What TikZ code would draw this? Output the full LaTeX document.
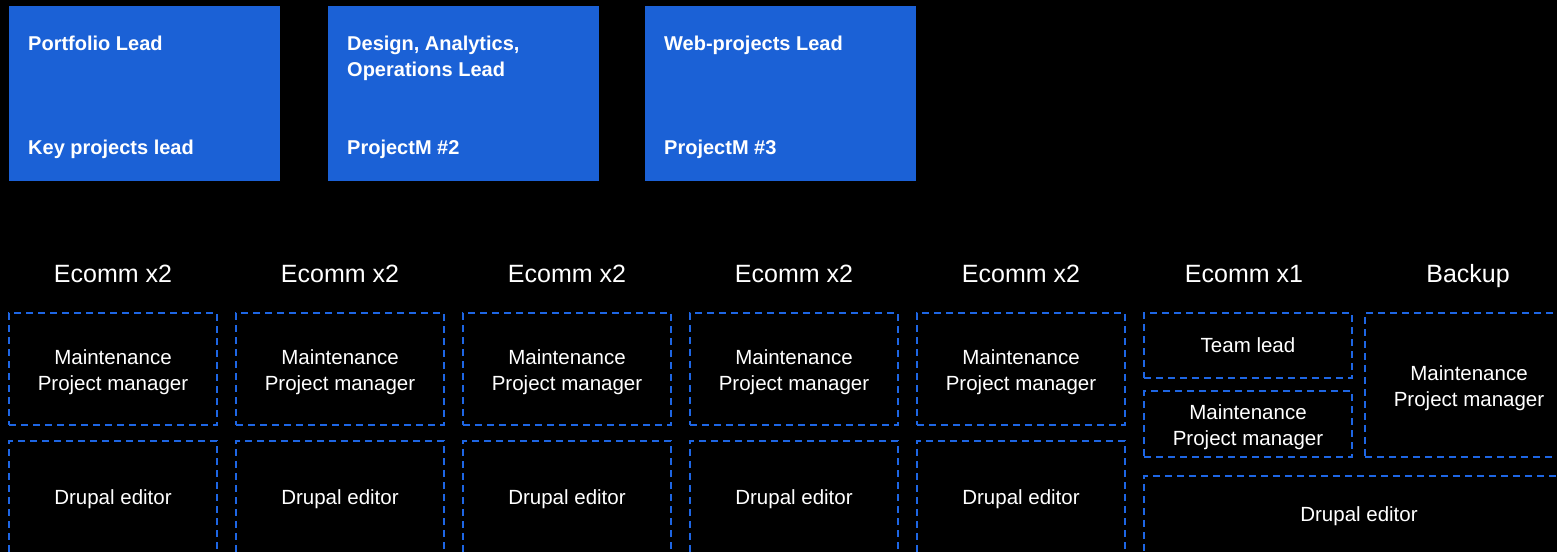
\documentclass[tikz,border=0pt]{standalone}
\usepackage{fontspec}
\setmainfont{Liberation Sans}

\definecolor{leadblue}{RGB}{27,97,214}
\definecolor{dashblue}{RGB}{30,102,228}

\tikzset{
  leadbox/.style={fill=leadblue,anchor=north west,minimum width=271pt,minimum height=175pt,inner sep=0},
  leadtext/.style={anchor=base west,text=white,font=\fontsize{20}{26}\selectfont\bfseries,align=left,inner sep=0},
  teamhead/.style={anchor=base,text=white,font=\fontsize{25}{30}\selectfont,inner sep=0},
  rolebox/.style={draw=dashblue,line width=2pt,dash pattern=on 7pt off 5pt,text=white,
    font=\fontsize{20.5}{26}\selectfont,align=center,inner sep=0,minimum width=208pt},
  twoline/.style={rolebox,text height=47pt},
}

\begin{document}
\begin{tikzpicture}[x=1pt,y=-1pt]

\useasboundingbox (0,0) rectangle (1557,552);
\path[fill=black] (0,0) rectangle (1557,552);

%leads
\node[leadbox] (lead1) at (9,6) {};
\node[leadtext] (lead1top) at (28,50) {Portfolio Lead};
\node[leadtext] (lead1bot) at (28,154) {Key projects lead};

\node[leadbox] (lead2) at (328,6) {};
\node[leadtext] (lead2top) at (347,76) {Design, Analytics,\\Operations Lead};
\node[leadtext] (lead2bot) at (347,154) {ProjectM \#2};

\node[leadbox] (lead3) at (645,6) {};
\node[leadtext] (lead3top) at (664,50) {Web-projects Lead};
\node[leadtext] (lead3bot) at (664,154) {ProjectM \#3};

%team 1
\node[teamhead] (h1) at (113,282) {Ecomm x2};
\node[twoline,minimum height=112pt] (pm1) at (113,369) {Maintenance\\Project manager};
\node[rolebox,minimum height=116pt] (ed1) at (113,499) {Drupal editor};

%team 2
\node[teamhead] (h2) at (340,282) {Ecomm x2};
\node[twoline,minimum height=112pt] (pm2) at (340,369) {Maintenance\\Project manager};
\node[rolebox,minimum height=116pt] (ed2) at (340,499) {Drupal editor};

%team 3
\node[teamhead] (h3) at (567,282) {Ecomm x2};
\node[twoline,minimum height=112pt] (pm3) at (567,369) {Maintenance\\Project manager};
\node[rolebox,minimum height=116pt] (ed3) at (567,499) {Drupal editor};

%team 4
\node[teamhead] (h4) at (794,282) {Ecomm x2};
\node[twoline,minimum height=112pt] (pm4) at (794,369) {Maintenance\\Project manager};
\node[rolebox,minimum height=116pt] (ed4) at (794,499) {Drupal editor};

%team 5
\node[teamhead] (h5) at (1021,282) {Ecomm x2};
\node[twoline,minimum height=112pt] (pm5) at (1021,369) {Maintenance\\Project manager};
\node[rolebox,minimum height=116pt] (ed5) at (1021,499) {Drupal editor};

%team 6
\node[teamhead] (h6) at (1244,282) {Ecomm x1};
\node[rolebox,minimum height=65pt] (tl6) at (1248,345.5) {Team lead};
\node[twoline,minimum height=66pt] (pm6) at (1248,424) {Maintenance\\Project manager};

%backup
\node[teamhead] (h7) at (1468,282) {Backup};
\node[twoline,minimum height=144pt] (pm7) at (1469,385) {Maintenance\\Project manager};
\node[rolebox,minimum width=430pt,minimum height=80pt] (ed6) at (1359,516) {Drupal editor};

\end{tikzpicture}
\end{document}
